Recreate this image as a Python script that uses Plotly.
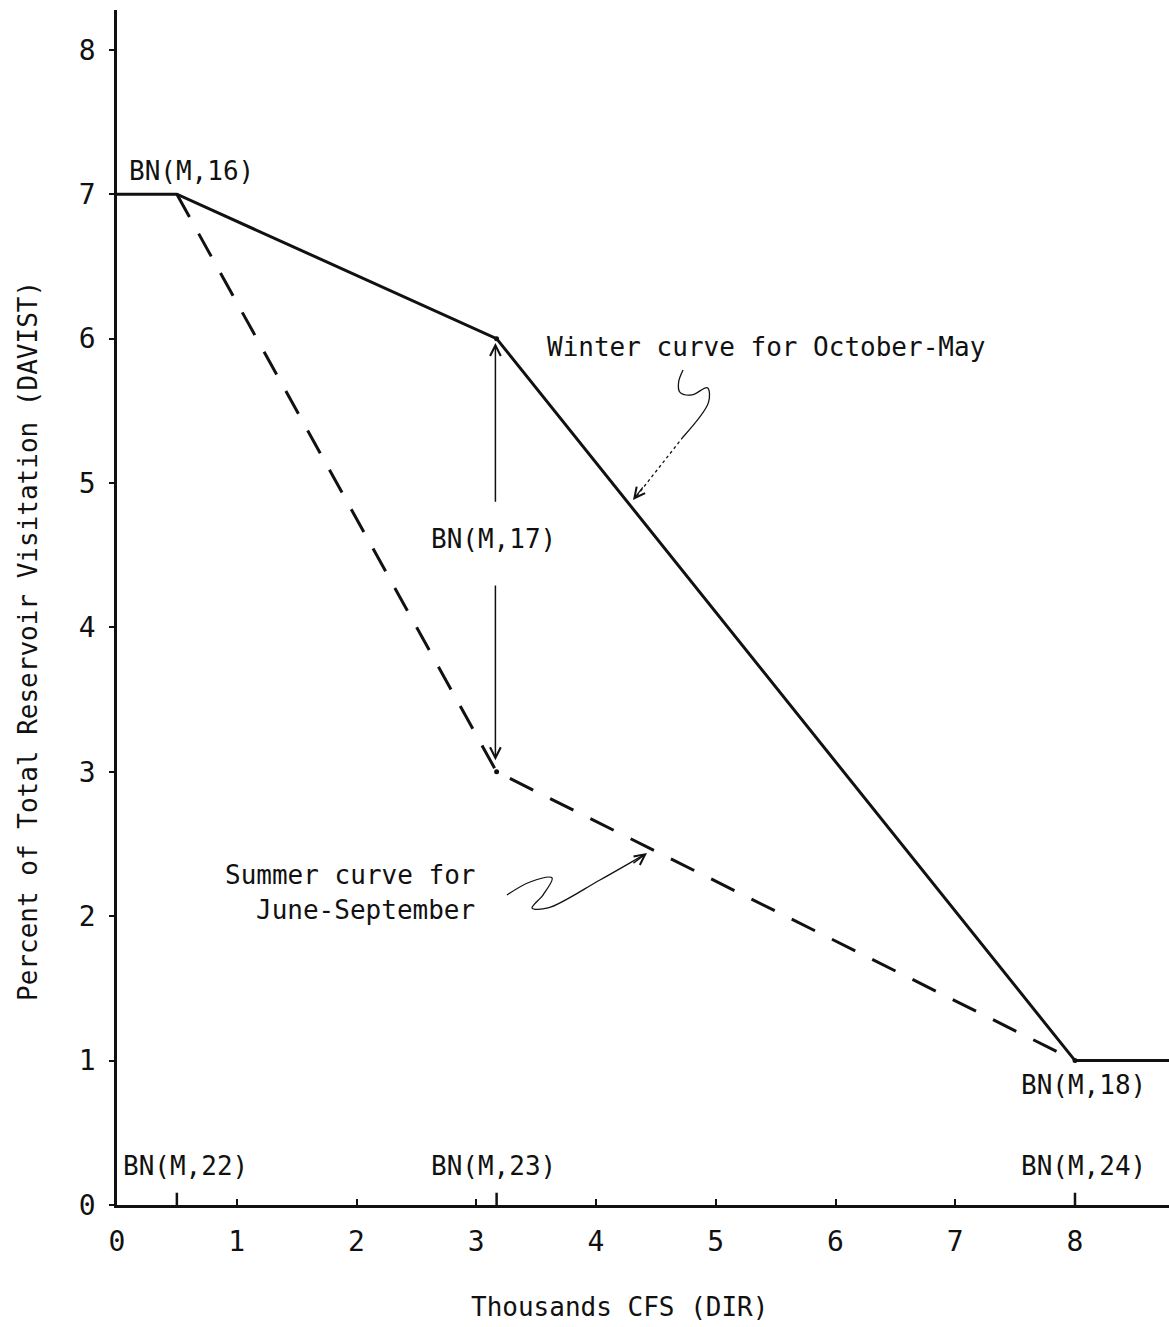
import plotly.graph_objects as go

# ---- data ----
winter_x = [0, 0.5, 3.17, 8, 8.8]
winter_y = [7, 7, 6, 1, 1]
summer_x = [0.5, 3.17, 8]
summer_y = [7, 3, 1]
break_x = [0.5, 3.17, 8]
break_labels_x = ["BN(M,22)", "BN(M,23)", "BN(M,24)"]
x_ticks = [0, 1, 2, 3, 4, 5, 6, 7, 8]
y_ticks = [0, 1, 2, 3, 4, 5, 6, 7, 8]

FONT = "DejaVu Sans Mono"
INK = "#111111"
TXT = 26

fig = go.Figure()

# winter curve (solid)
fig.add_trace(go.Scatter(x=winter_x, y=winter_y, mode="lines",
                         line=dict(color=INK, width=3), hoverinfo="skip"))
# summer curve (dashed)
fig.add_trace(go.Scatter(x=summer_x, y=summer_y, mode="lines",
                         line=dict(color=INK, width=3, dash="26px,19px"), hoverinfo="skip"))
# breakpoint dots
fig.add_trace(go.Scatter(x=[winter_x[2], summer_x[1], summer_x[2]],
                         y=[winter_y[2], summer_y[1], summer_y[2]],
                         mode="markers", marker=dict(color=INK, size=5), hoverinfo="skip"))

# longer ticks on x axis at breakpoints
for bx in break_x:
    fig.add_trace(go.Scatter(x=[bx, bx], y=[0, 0.085], mode="lines",
                             line=dict(color=INK, width=2.5), hoverinfo="skip"))

# winter squiggle pointer
wsx = [4.727, 4.690, 4.700, 4.800, 4.930, 4.940, 4.727]
wsy = [5.783, 5.700, 5.630, 5.610, 5.660, 5.560, 5.319]
fig.add_trace(go.Scatter(x=wsx, y=wsy, mode="lines", line=dict(color=INK, width=1.3, shape="spline"),
                         hoverinfo="skip"))
fig.add_trace(go.Scatter(x=[4.727, 4.330], y=[5.319, 4.900], mode="lines",
                         line=dict(color=INK, width=1.3, dash="dot"), hoverinfo="skip"))
# summer squiggle pointer
ssx = [3.257, 3.449, 3.633, 3.560, 3.466, 3.599, 4.033, 4.400]
ssy = [2.147, 2.237, 2.265, 2.150, 2.057, 2.057, 2.251, 2.425]
fig.add_trace(go.Scatter(x=ssx, y=ssy, mode="lines", line=dict(color=INK, width=1.3, shape="spline"),
                         hoverinfo="skip"))

ann = []
# arrowheads for squiggles
ann.append(dict(x=4.309, y=4.882, ax=4.40, ay=4.98, xref="x", yref="y", axref="x", ayref="y",
                text="", showarrow=True, arrowhead=5, arrowsize=1.6, arrowwidth=1.3, arrowcolor=INK))
ann.append(dict(x=4.426, y=2.438, ax=4.30, ay=2.36, xref="x", yref="y", axref="x", ayref="y",
                text="", showarrow=True, arrowhead=5, arrowsize=1.6, arrowwidth=1.3, arrowcolor=INK))
# double arrow BN(M,17)
ann.append(dict(x=3.16, y=5.97, ax=3.16, ay=4.86, xref="x", yref="y", axref="x", ayref="y",
                text="", showarrow=True, arrowhead=5, arrowsize=1.4, arrowwidth=1.5, arrowcolor=INK))
ann.append(dict(x=3.16, y=3.08, ax=3.16, ay=4.30, xref="x", yref="y", axref="x", ayref="y",
                text="", showarrow=True, arrowhead=5, arrowsize=1.4, arrowwidth=1.5, arrowcolor=INK))

def txt(x, y, s, xa="left", ya="middle"):
    return dict(x=x, y=y, xref="x", yref="y", text=s, showarrow=False, xanchor=xa, yanchor=ya,
                font=dict(family=FONT, size=TXT, color=INK))

ann.append(txt(0.08, 7.16, "BN(M,16)"))
ann.append(txt(3.57, 5.94, "Winter curve for October-May"))
ann.append(txt(3.14, 4.61, "BN(M,17)", xa="center"))
ann.append(txt(3.01, 2.285, "Summer curve for", xa="right"))
ann.append(txt(3.01, 2.043, "June-September", xa="right"))
ann.append(txt(8.07, 0.83, "BN(M,18)", xa="center"))
for bx, lab in zip(break_x, break_labels_x):
    cx = 3.14 if lab == "BN(M,23)" else bx + 0.07
    ann.append(txt(cx, 0.27, lab, xa="center"))

# axis titles
ann.append(dict(x=0.478, y=-0.0854, xref="paper", yref="paper", text="Thousands CFS (DIR)",
                showarrow=False, xanchor="center", yanchor="middle",
                font=dict(family=FONT, size=TXT, color=INK)))
ann.append(dict(x=-0.0846, y=0.472, xref="paper", yref="paper",
                text="Percent of Total Reservoir Visitation (DAVIST)", textangle=-90,
                showarrow=False, xanchor="center", yanchor="middle",
                font=dict(family=FONT, size=TXT, color=INK)))

fig.update_layout(
    width=1169, height=1327,
    margin=dict(l=117, r=0, t=10, b=122),
    paper_bgcolor="white", plot_bgcolor="white",
    showlegend=False,
    annotations=ann,
    xaxis=dict(range=[0, 8.785], tickvals=x_ticks, ticktext=[str(v) for v in x_ticks],
               showline=True, linecolor=INK, linewidth=2.5, mirror=False,
               ticks="inside", ticklen=6, tickwidth=2, tickcolor=INK,
               ticklabelstandoff=10,
               showgrid=False, zeroline=False,
               tickfont=dict(family=FONT, size=28, color=INK)),
    yaxis=dict(range=[0, 8.276], tickvals=y_ticks, ticktext=[str(v) for v in y_ticks],
               showline=True, linecolor=INK, linewidth=2.5, mirror=False,
               ticks="outside", ticklen=5, tickwidth=2, tickcolor=INK,
               ticklabelstandoff=8,
               showgrid=False, zeroline=False,
               tickfont=dict(family=FONT, size=28, color=INK)),
)

fig.write_html("out.html")
